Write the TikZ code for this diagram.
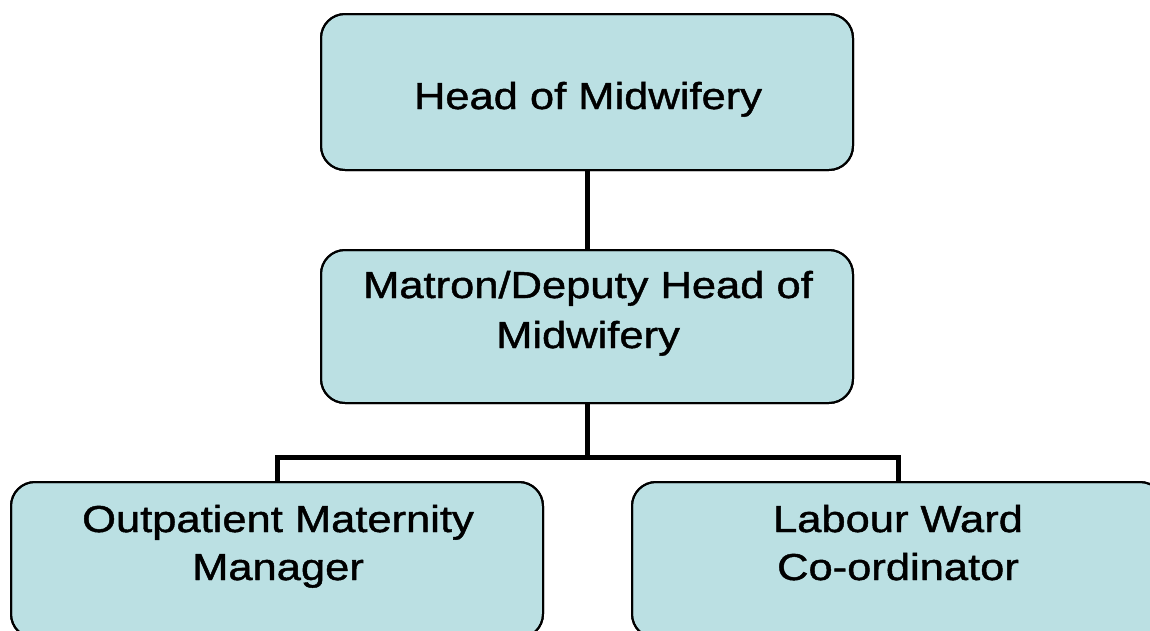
\documentclass[tikz,border=0pt]{standalone}
\usepackage{fontspec}
\setmainfont{Liberation Sans}[FakeStretch=1.16,FakeBold=1.2]
\definecolor{boxfill}{RGB}{187,224,227}
\begin{document}
\begin{tikzpicture}[x=1pt,y=-1pt,
  orgbox/.style={draw=black,line width=2pt,fill=boxfill,rounded corners=24pt,
    minimum width=532pt,minimum height=156pt,inner sep=0pt},
  orgtext/.style={anchor=base,inner sep=0pt,font=\fontsize{37.5pt}{49pt}\selectfont},
  conn/.style={draw=black,line width=5pt,line join=miter}]
\useasboundingbox (0,0) rectangle (1150,630);
\clip (0,0) rectangle (1150,630);
\fill[white] (0,0) rectangle (1150,630);
% boxes
\node[orgbox] (top) at (587,92) {};
\node[orgbox, minimum height=153pt] (mid) at (587,326.5) {};
\node[orgbox] (left) at (277,560) {};
\node[orgbox] (right) at (898,560) {};
% connectors
\coordinate (j) at (587,457);
\draw[conn] (top.south) -- (mid.north);
\draw[conn] (mid.south) -- (j);
\draw[conn] (left.north) |- (j) -| (right.north);
% redraw borders over connector ends
\node[orgbox,fill=none] at (top) {};
\node[orgbox,fill=none,minimum height=153pt] at (mid) {};
\node[orgbox,fill=none] at (left) {};
\node[orgbox,fill=none] at (right) {};
% texts
\node[orgtext] (t1) at (588,109) {Head of Midwifery};
\node[orgtext] (t2a) at (588,298) {Matron/Deputy Head of};
\node[orgtext] (t2b) at (588,348) {Midwifery};
\node[orgtext] (t3a) at (278,532) {Outpatient Maternity};
\node[orgtext] (t3b) at (278,580) {Manager};
\node[orgtext] (t4a) at (898,532) {Labour Ward};
\node[orgtext] (t4b) at (898,580) {Co-ordinator};
\end{tikzpicture}
\end{document}
